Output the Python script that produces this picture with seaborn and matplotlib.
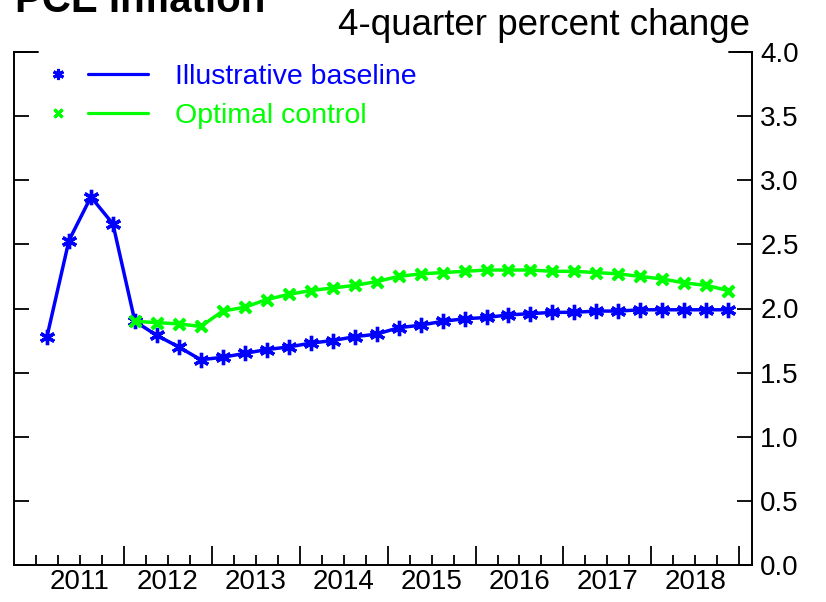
import matplotlib

matplotlib.use("Agg")
import matplotlib.pyplot as plt
import numpy as np
import pandas as pd
import seaborn as sns
from matplotlib.legend_handler import HandlerTuple
from matplotlib.lines import Line2D
from matplotlib.ticker import FixedLocator, FuncFormatter

# quarterly data, 2011Q1 - 2018Q4
quarters = pd.period_range("2011Q1", "2018Q4", freq="Q")
baseline = [1.78, 2.53, 2.87, 2.66, 1.90, 1.79, 1.70, 1.60,
            1.62, 1.65, 1.68, 1.70, 1.73, 1.75, 1.78, 1.80,
            1.85, 1.87, 1.90, 1.92, 1.93, 1.95, 1.96, 1.97,
            1.97, 1.98, 1.98, 1.99, 1.99, 1.99, 1.99, 1.99]
# optimal control starts in 2012Q1
optimal = [1.90, 1.89, 1.88, 1.86, 1.98, 2.01, 2.07, 2.11,
           2.14, 2.16, 2.18, 2.21, 2.25, 2.27, 2.28, 2.29,
           2.30, 2.30, 2.30, 2.29, 2.29, 2.28, 2.27, 2.25,
           2.23, 2.20, 2.18, 2.14]
years = list(range(2011, 2019))
yticks = [0.0, 0.5, 1.0, 1.5, 2.0, 2.5, 3.0, 3.5, 4.0]

BLUE = "#0000ff"
GREEN = "#00ff00"
STAR = (6, 2, 0)
CROSS = (4, 2, 45)


def main():
    sns.set_style("ticks")
    plt.rcParams["font.family"] = ["Liberation Sans", "DejaVu Sans"]
    plt.rcParams["text.color"] = "black"
    plt.rcParams["xtick.color"] = "black"
    plt.rcParams["ytick.color"] = "black"
    plt.rcParams["xtick.labelcolor"] = "black"
    plt.rcParams["ytick.labelcolor"] = "black"

    x = quarters.year + (quarters.quarter - 0.5) / 4.0
    df_base = pd.DataFrame({"x": x, "value": baseline})
    df_opt = pd.DataFrame({"x": x[-len(optimal):], "value": optimal})

    fig = plt.figure(figsize=(8.26, 6.02), dpi=100)
    ax = fig.add_axes([14 / 826, 37 / 602, 738 / 826, 513 / 602])

    sns.lineplot(data=df_base, x="x", y="value", ax=ax, color=BLUE, lw=2.5,
                 marker=STAR, markersize=11, markeredgewidth=2.4,
                 markeredgecolor=BLUE)
    sns.lineplot(data=df_opt, x="x", y="value", ax=ax, color=GREEN, lw=2.5,
                 marker=CROSS, markersize=11, markeredgewidth=2.8,
                 markeredgecolor=GREEN)

    ax.set_xlim(2010.75, 2019.145)
    ax.set_ylim(0, 4)
    ax.set_xlabel("")
    ax.set_ylabel("")

    # y axis: labels on the right, inward ticks on both sides
    ax.set_yticks(yticks)
    ax.yaxis.set_major_formatter(FuncFormatter(lambda v, p: f"{v:.1f}"))
    ax.tick_params(axis="y", direction="in", length=11, width=1.3,
                   left=True, right=True, labelleft=False, labelright=True,
                   labelsize=20, pad=6)

    # x axis: long ticks at year boundaries, short ticks at quarters,
    # year labels centred on each year
    ax.xaxis.set_major_locator(FixedLocator([y + 1 for y in years]))
    ax.xaxis.set_major_formatter(FuncFormatter(lambda v, p: ""))
    minor = [y + q / 4 for y in years for q in range(4)]
    ax.xaxis.set_minor_locator(FixedLocator(minor))
    ax.xaxis.set_minor_formatter(
        FuncFormatter(lambda v, p: f"{int(v)}" if abs(v % 1 - 0.5) < 1e-6 else ""))
    ax.tick_params(axis="x", which="major", direction="in", length=14, width=1.3,
                   labelsize=20)
    ax.tick_params(axis="x", which="minor", direction="in", length=7, width=1.3,
                   labelsize=20, pad=3)

    ax.spines["top"].set_visible(False)
    for s in ("left", "right", "bottom"):
        ax.spines[s].set_linewidth(1.4)
        ax.spines[s].set_color("black")
    # short top caps at both corners
    ax.plot([0, 24 / 738], [1, 1], transform=ax.transAxes, color="black",
            lw=1.4, clip_on=False)
    ax.plot([1 - 23 / 738, 1], [1, 1], transform=ax.transAxes, color="black",
            lw=1.4, clip_on=False)

    # legend: marker, then line, then coloured label
    h_base = (Line2D([], [], ls="none", marker=STAR, color=BLUE,
                     markersize=8, markeredgewidth=2.2),
              Line2D([], [], color=BLUE, lw=2.3))
    h_opt = (Line2D([], [], ls="none", marker=CROSS, color=GREEN,
                    markersize=8, markeredgewidth=2.2),
             Line2D([], [], color=GREEN, lw=2.3))
    ax.legend([h_base, h_opt], ["Illustrative baseline", "Optimal control"],
              handler_map={tuple: HandlerTuple(ndivide=None, pad=0)},
              loc="upper left", bbox_to_anchor=(14 / 738, 1 - 12 / 513),
              frameon=False, fontsize=20.5, handlelength=4.2,
              handletextpad=0.95, borderpad=0, borderaxespad=0,
              labelspacing=0.45, labelcolor=[BLUE, GREEN])

    fig.text(750 / 826, 1 - 35 / 602, "4-quarter percent change", ha="right",
             va="baseline", fontsize=26.5)
    fig.text(15 / 826, 1 - 12.5 / 602, "PCE Inflation", ha="left",
             va="baseline", fontsize=29, fontweight="bold")

    fig.savefig("out.png", dpi=100, facecolor="white")


if __name__ == "__main__":
    main()
